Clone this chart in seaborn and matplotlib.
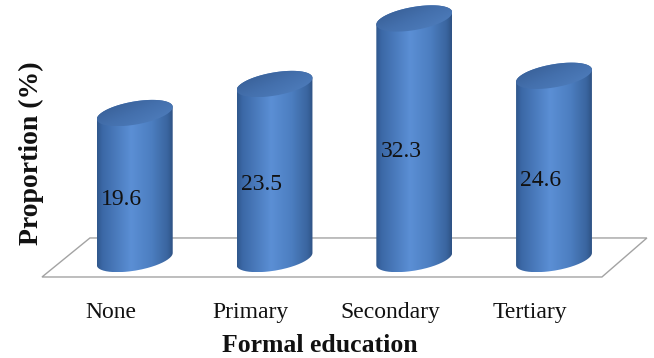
import numpy as np
import matplotlib
matplotlib.use("Agg")
import matplotlib.pyplot as plt
import seaborn as sns
import pandas as pd
from matplotlib.path import Path
from matplotlib.patches import PathPatch, Polygon
from matplotlib.colors import LinearSegmentedColormap

# Share of respondents by level of formal education
categories = ["None", "Primary", "Secondary", "Tertiary"]
proportions = [19.6, 23.5, 32.3, 24.6]

sns.set_theme(style="white")
plt.rcParams["font.family"] = ["Liberation Serif", "DejaVu Serif"]

fig = plt.figure(figsize=(6.54, 3.58), dpi=100)
fig.patch.set_facecolor("white")
ax = fig.add_axes([0.0642, 0.2039, 0.928, 0.782])
ax.set_facecolor("none")

df = pd.DataFrame({"Education": categories, "Proportion": proportions})
sns.barplot(data=df, x="Education", y="Proportion", color="#4f81bd",
            width=0.543, ax=ax, edgecolor="none", zorder=3)

ax.set_xlim(-0.664, 3.679)
ax.set_ylim(-3.49, 34.1)

# pixels per data unit, used to keep the elliptical caps round on screen
p0 = ax.transData.transform((0, 0))
sx = ax.transData.transform((1, 0))[0] - p0[0]
sy = ax.transData.transform((0, 1))[1] - p0[1]

body_cmap = LinearSegmentedColormap.from_list(
    "body",
    [(0.0, "#30578c"), (0.07, "#3b68a6"), (0.45, "#5b8fd5"),
     (0.72, "#4c7ec0"), (0.93, "#3a659f"), (1.0, "#2e5284")])
cap_cmap = LinearSegmentedColormap.from_list(
    "cap", ["#34598e", "#4470ad", "#5282c2"])

theta = np.deg2rad(10)
b_px = 11.5


def ellipse_pts(cx, yc, a, t):
    dx = a * np.cos(t) * np.cos(theta) - b_px * np.sin(t) * np.sin(theta)
    dy = a * np.cos(t) * np.sin(theta) + b_px * np.sin(t) * np.cos(theta)
    return np.column_stack([cx + dx / sx, yc + dy / sy])


bars = list(ax.patches)
for bar in bars:
    x0, w, h = bar.get_x(), bar.get_width(), bar.get_height()
    cx = x0 + w / 2
    bar.set_alpha(0)
    hw = w * sx / 2
    a = np.sqrt((hw ** 2 - (b_px * np.sin(theta)) ** 2) / np.cos(theta) ** 2)
    t_r = np.arctan(-(b_px / a) * np.tan(theta))

    bottom_arc = ellipse_pts(cx, 0.0, a, np.linspace(np.pi + t_r, 2 * np.pi + t_r, 80))
    top_arc = ellipse_pts(cx, h, a, np.linspace(t_r, np.pi + t_r, 80))
    outline = np.vstack([bottom_arc, top_arc, bottom_arc[:1]])
    body = PathPatch(Path(outline), facecolor="none", edgecolor="none",
                     transform=ax.transData)
    ax.add_patch(body)
    ymin, ymax = outline[:, 1].min(), outline[:, 1].max()
    grad = np.linspace(0, 1, 256)[None, :]
    im = ax.imshow(grad, cmap=body_cmap, extent=[cx - w / 2, cx + w / 2, ymin, ymax],
                   aspect="auto", origin="lower", interpolation="bilinear", zorder=3)
    im.set_clip_path(body)

    cap_pts = ellipse_pts(cx, h, a, np.linspace(0, 2 * np.pi, 120))
    cap = PathPatch(Path(cap_pts), facecolor="none", edgecolor="none",
                    transform=ax.transData)
    ax.add_patch(cap)
    gx, gy = np.meshgrid(np.linspace(0, 1, 64), np.linspace(0, 1, 64))
    cap_grad = 0.55 * gx + 0.45 * (1 - gy)
    cim = ax.imshow(cap_grad, cmap=cap_cmap,
                    extent=[cap_pts[:, 0].min(), cap_pts[:, 0].max(),
                            cap_pts[:, 1].min(), cap_pts[:, 1].max()],
                    aspect="auto", origin="lower", interpolation="bilinear", zorder=4)
    cim.set_clip_path(cap)

    ax.annotate(f"{h:.1f}", xy=(cx, h / 2), xytext=(-9.4, -9.5),
                textcoords="offset points", ha="center", va="center",
                fontsize=17, color="#111111", zorder=6)

ax.set_xlim(-0.664, 3.679)
ax.set_ylim(-3.49, 34.1)

# floor of the 3-D plot area
floor = Polygon([(0.0, 0.0286), (0.079, 0.168), (0.9967, 0.168), (0.9226, 0.0286)],
                closed=True, transform=ax.transAxes, facecolor="white",
                edgecolor="#a3a3a3", linewidth=1.0, zorder=1, clip_on=False)
ax.add_patch(floor)

sns.despine(ax=ax, left=True, bottom=True)
ax.set_yticks([])
ax.set_xticks(np.arange(len(categories)) - 0.172, categories)
ax.tick_params(axis="x", length=0, pad=12, labelsize=17, labelcolor="#111111")

ax.set_xlabel("Formal education", fontsize=18.5, fontweight="bold", color="#111111")
ax.xaxis.set_label_coords(0.458, -0.174)
ax.set_ylabel("Proportion (%)", fontsize=20, fontweight="bold", color="#111111")
ax.yaxis.set_label_coords(0.004, 0.47)

fig.savefig("out.png", dpi=100, facecolor="white")
